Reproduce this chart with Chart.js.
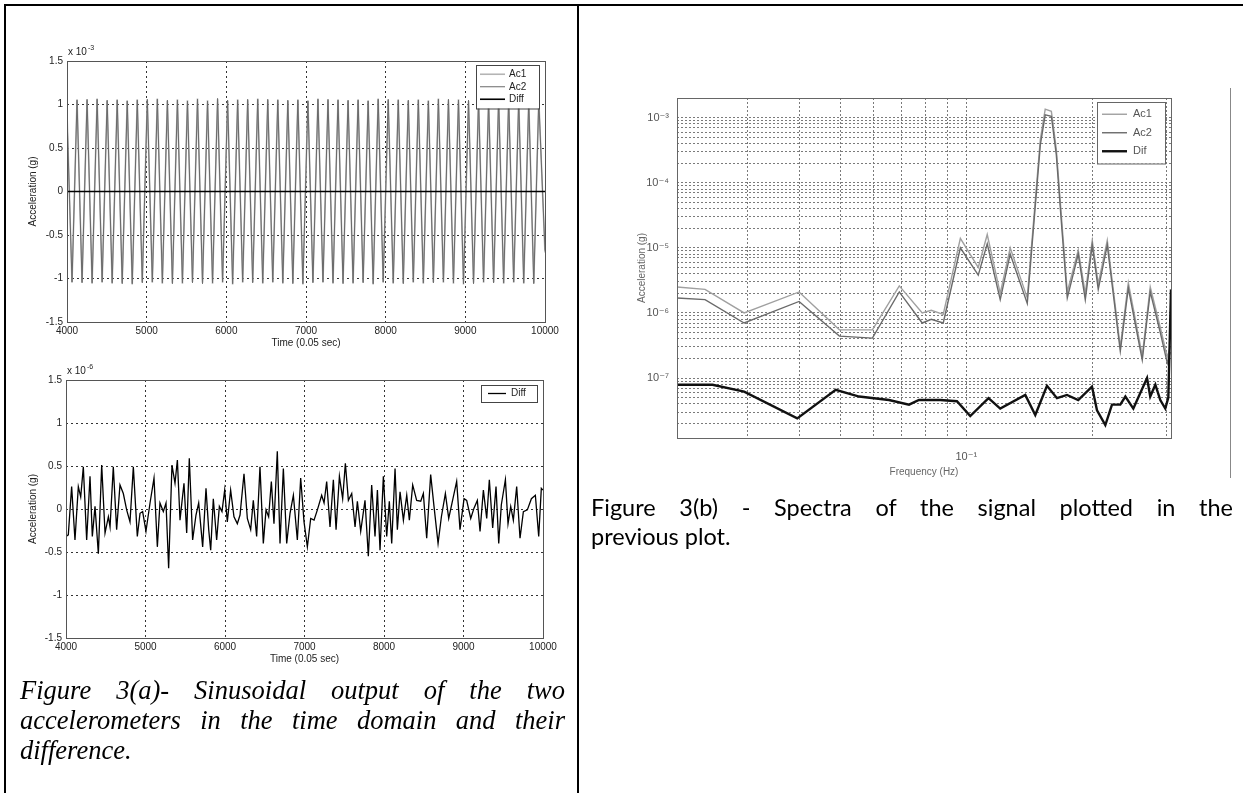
<!DOCTYPE html>
<html>
<head>
<meta charset="utf-8">
<script src="https://cdn.jsdelivr.net/npm/chart.js@4"></script>
<style>
  body { margin: 0; width: 1243px; height: 793px; overflow: hidden; background: #fff; position: relative; }
  .rule { position: absolute; background: #000; }
  canvas { position: absolute; }
  .cap { position: absolute; color: #000; }
  .cap .j { text-align: justify; text-align-last: justify; }
  #capA { left: 20px; top: 675px; width: 545px; font: italic 26.5px/30px "Liberation Serif", "DejaVu Serif", serif; }
  #capB { left: 591px; top: 493px; width: 642px; font: 23.5px/29px Lato, "Open Sans", sans-serif; }
  #specPlot { filter: blur(0.35px); }
</style>
</head>
<body>
<div class="rule" style="left:4px; top:4px; width:1239px; height:2px;"></div>
<div class="rule" style="left:4px; top:4px; width:2px; height:789px;"></div>
<div class="rule" style="left:577px; top:4px; width:2px; height:789px;"></div>
<div class="rule" style="left:1230px; top:88px; width:1px; height:390px; background:#888;"></div>

<canvas id="topPlot" width="560" height="330" style="left:10px; top:36px;"></canvas>
<canvas id="diffPlot" width="560" height="320" style="left:10px; top:355px;"></canvas>
<canvas id="specPlot" width="600" height="430" style="left:600px; top:70px;"></canvas>

<div class="cap" id="capA">
  <div class="j">Figure 3(a)- Sinusoidal output of the two</div>
  <div class="j">accelerometers in the time domain and their</div>
  <div>difference.</div>
</div>
<div class="cap" id="capB">
  <div class="j">Figure 3(b) - Spectra of the signal plotted in the</div>
  <div>previous plot.</div>
</div>

<script>
// top plot, acceleration in units of 1e-3 g
const topTime = [
    4000, 4063, 4126, 4189, 4252, 4315, 4378, 4441,
    4504, 4567, 4630, 4693, 4756, 4819, 4882, 4945,
    5008, 5071, 5134, 5197, 5260, 5323, 5386, 5449,
    5512, 5575, 5638, 5701, 5764, 5827, 5890, 5953,
    6016, 6079, 6142, 6205, 6268, 6331, 6394, 6457,
    6520, 6583, 6646, 6709, 6772, 6835, 6898, 6961,
    7024, 7087, 7150, 7213, 7276, 7339, 7402, 7465,
    7528, 7591, 7654, 7717, 7780, 7843, 7906, 7969,
    8032, 8095, 8158, 8221, 8284, 8347, 8410, 8473,
    8536, 8599, 8662, 8725, 8788, 8851, 8914, 8977,
    9040, 9103, 9166, 9229, 9292, 9355, 9418, 9481,
    9544, 9607, 9670, 9733, 9796, 9859, 9922, 10000
];
const ac1Top = [
    0.90, -1.05, 1.06, -1.04, 1.05, -1.06, 1.07, -1.05,
    1.04, -1.06, 1.06, -1.05, 1.05, -1.07, 1.06, -1.04,
    1.05, -1.05, 1.07, -1.06, 1.04, -1.05, 1.06, -1.06,
    1.05, -1.04, 1.07, -1.05, 1.05, -1.06, 1.06, -1.05,
    1.04, -1.07, 1.06, -1.05, 1.05, -1.04, 1.07, -1.06,
    1.05, -1.05, 1.06, -1.06, 1.04, -1.05, 1.06, -1.07,
    1.05, -1.04, 1.07, -1.05, 1.05, -1.06, 1.06, -1.05,
    1.04, -1.06, 1.06, -1.04, 1.05, -1.07, 1.07, -1.05,
    1.05, -1.06, 1.06, -1.05, 1.04, -1.05, 1.06, -1.06,
    1.05, -1.04, 1.07, -1.05, 1.05, -1.06, 1.06, -1.07,
    1.04, -1.05, 1.06, -1.05, 1.05, -1.04, 1.07, -1.06,
    1.05, -1.05, 1.06, -1.06, 1.04, -1.05, 1.06, -0.70
];
const ac2Top = [
    0.88, -1.04, 1.05, -1.05, 1.06, -1.05, 1.06, -1.04,
    1.05, -1.05, 1.05, -1.06, 1.04, -1.06, 1.05, -1.05,
    1.06, -1.04, 1.06, -1.05, 1.05, -1.06, 1.05, -1.05,
    1.04, -1.05, 1.06, -1.06, 1.04, -1.05, 1.07, -1.04,
    1.05, -1.06, 1.05, -1.04, 1.06, -1.05, 1.06, -1.05,
    1.06, -1.04, 1.05, -1.05, 1.05, -1.06, 1.05, -1.06,
    1.04, -1.05, 1.06, -1.04, 1.06, -1.05, 1.05, -1.06,
    1.05, -1.05, 1.05, -1.05, 1.04, -1.06, 1.06, -1.04,
    1.06, -1.05, 1.05, -1.06, 1.05, -1.04, 1.05, -1.05,
    1.04, -1.05, 1.06, -1.04, 1.06, -1.05, 1.05, -1.06,
    1.05, -1.06, 1.05, -1.04, 1.04, -1.05, 1.06, -1.05,
    1.06, -1.04, 1.05, -1.05, 1.05, -1.06, 1.05, -0.68
];

// bottom plot, difference in units of 1e-6 g
const diffTime = [
    4000, 4029, 4071, 4113, 4155, 4185, 4218, 4260, 4302, 4331,
    4365, 4407, 4449, 4491, 4533, 4554, 4595, 4637, 4679, 4721,
    4763, 4805, 4847, 4897, 4931, 4964, 5006, 5057, 5107, 5149,
    5182, 5224, 5258, 5291, 5333, 5371, 5401, 5434, 5484, 5518,
    5551, 5593, 5635, 5669, 5719, 5761, 5795, 5820, 5853, 5895,
    5929, 5962, 5996, 6029, 6071, 6113, 6155, 6189, 6239, 6281,
    6323, 6356, 6398, 6440, 6482, 6516, 6549, 6583, 6616, 6658,
    6692, 6734, 6776, 6818, 6860, 6910, 6952, 6994, 7036, 7078,
    7120, 7162, 7216, 7246, 7279, 7321, 7363, 7397, 7439, 7480,
    7514, 7552, 7594, 7636, 7665, 7707, 7761, 7803, 7845, 7887,
    7917, 7950, 7992, 8034, 8067, 8097, 8139, 8168, 8202, 8244,
    8286, 8319, 8361, 8411, 8462, 8495, 8537, 8587, 8629, 8680,
    8722, 8772, 8814, 8856, 8914, 8956, 9007, 9040, 9091, 9132,
    9174, 9208, 9250, 9292, 9325, 9367, 9409, 9443, 9476, 9527,
    9560, 9594, 9627, 9669, 9711, 9753, 9803, 9854, 9904, 9946,
    9979, 10000
];
const diffVals = [
    -0.32, -0.30, 0.26, -0.36, 0.26, 0.14, 0.49, -0.36, 0.38, -0.32,
    0.03, -0.52, 0.51, -0.28, -0.09, -0.21, 0.49, -0.24, 0.28, 0.18,
    -0.01, -0.15, 0.49, -0.32, -0.05, -0.03, -0.26, 0.07, 0.36, -0.44,
    0.07, -0.03, 0.07, -0.69, 0.51, 0.30, 0.57, -0.13, 0.30, -0.28,
    0.59, -0.36, -0.07, 0.07, -0.44, 0.24, -0.24, -0.48, 0.12, -0.36,
    0.03, -0.03, 0.22, -0.15, 0.22, -0.09, -0.17, -0.07, 0.41, -0.11,
    -0.24, 0.10, -0.32, 0.49, -0.40, -0.01, -0.09, 0.32, -0.17, 0.67,
    -0.40, 0.47, -0.40, -0.05, 0.16, -0.36, 0.36, -0.15, -0.44, -0.11,
    -0.13, -0.01, 0.16, 0.07, 0.32, -0.21, 0.34, -0.24, 0.38, 0.12,
    0.53, 0.10, 0.18, -0.21, 0.09, -0.26, 0.10, -0.55, 0.28, -0.32,
    0.22, -0.48, 0.38, -0.32, 0.09, -0.40, 0.47, -0.24, 0.20, -0.13,
    0.16, -0.13, 0.28, 0.10, 0.09, 0.18, -0.34, 0.40, 0.03, -0.40,
    -0.09, 0.18, -0.11, 0.07, 0.32, -0.24, 0.12, 0.10, -0.11, 0.01,
    0.10, -0.26, 0.22, -0.11, 0.34, -0.22, 0.26, -0.40, 0.05, 0.34,
    -0.17, 0.03, -0.13, 0.26, -0.34, -0.03, -0.01, 0.12, 0.16, -0.32,
    0.24, 0.22
];

// spectra (g), Ac1 and Ac2 share the frequency list
const specFreq = [0.0204, 0.0238, 0.0295, 0.0399, 0.0498, 0.0597, 0.0692, 0.0785, 0.0825, 0.0881,
    0.0968, 0.1068, 0.1122, 0.1205, 0.1273, 0.1398, 0.1502, 0.1543, 0.1596, 0.1640,
    0.1695, 0.1742, 0.1850, 0.1923, 0.1998, 0.2065, 0.2170, 0.2331, 0.2436, 0.2630,
    0.2748, 0.2904, 0.3018, 0.3068];
const ac1Spec = [2.5e-6, 2.3e-6, 1.0e-6, 2.1e-6, 5.5e-7, 5.5e-7, 2.6e-6, 1.0e-6, 1.1e-6, 9.5e-7,
    1.4e-5, 5.0e-6, 1.6e-5, 2.0e-6, 1.0e-5, 1.7e-6, 4.6e-4, 1.35e-3, 1.25e-3, 3.3e-4,
    2.0e-5, 2.1e-6, 9.2e-6, 2.0e-6, 1.3e-5, 2.8e-6, 1.3e-5, 3.0e-7, 2.9e-6, 2.2e-7,
    2.5e-6, 6.0e-7, 2.1e-7, 3.0e-7];
const ac2Spec = [1.7e-6, 1.6e-6, 7.0e-7, 1.5e-6, 4.4e-7, 4.1e-7, 2.1e-6, 7.0e-7, 8.0e-7, 7.0e-7,
    1.0e-5, 3.8e-6, 1.15e-5, 1.6e-6, 8.0e-6, 1.4e-6, 3.8e-4, 1.1e-3, 1.05e-3, 2.7e-4,
    1.6e-5, 1.7e-6, 8.0e-6, 1.6e-6, 1.1e-5, 2.3e-6, 1.1e-5, 2.6e-7, 2.4e-6, 1.9e-7,
    2.1e-6, 5.0e-7, 1.7e-7, 2.5e-7];
const difFreq = [0.0204, 0.0248, 0.0295, 0.0395, 0.0488, 0.0555, 0.0654, 0.0730, 0.0771, 0.0867,
    0.0950, 0.1022, 0.1130, 0.1205, 0.1383, 0.1461, 0.1558, 0.1646, 0.1739, 0.1850,
    0.1995, 0.2051, 0.2147, 0.2227, 0.2331, 0.2397, 0.2504, 0.2700, 0.2748, 0.2826,
    0.2904, 0.2985, 0.3035, 0.3080];
const difSpec = [7.9e-8, 7.9e-8, 6.2e-8, 2.4e-8, 6.6e-8, 5.2e-8, 4.6e-8, 3.9e-8, 4.6e-8, 4.6e-8,
    4.4e-8, 2.6e-8, 4.9e-8, 3.4e-8, 5.5e-8, 2.7e-8, 7.6e-8, 4.9e-8, 5.5e-8, 4.6e-8,
    7.4e-8, 3.2e-8, 1.9e-8, 3.9e-8, 3.9e-8, 5.2e-8, 3.4e-8, 1.0e-7, 5.2e-8, 7.9e-8,
    4.6e-8, 3.4e-8, 5.0e-8, 2.3e-6];

// axis ranges / ticks
const specDecades = [-8, -7, -6, -5, -4, -3];
const specMantissas = [1, 2, 3, 4, 5, 6, 7, 8, 9];
const specYMin = 1.2e-8, specYMax = 2e-3;
const specXTicks = [0.03, 0.04, 0.05, 0.06, 0.07, 0.08, 0.09, 0.1, 0.2, 0.3];
const specXMin = 0.0204, specXMax = 0.308;

Chart.defaults.font.family = '"Liberation Sans", Arial, "DejaVu Sans", sans-serif';
Chart.defaults.font.size = 10;
Chart.defaults.color = '#222';

const pts = (xs, ys) => xs.map((x, i) => ({x: x, y: ys[i]}));

// box around the axes plus the exponent note
const frame = {
    id: 'frame',
    afterDraw(chart, args, opts) {
        const {ctx, chartArea: a} = chart;
        ctx.save();
        ctx.strokeStyle = opts.color || '#555';
        ctx.lineWidth = 1;
        ctx.strokeRect(Math.round(a.left) + 0.5, Math.round(a.top) + 0.5,
            Math.round(a.right - a.left), Math.round(a.bottom - a.top));
        if (opts.exponent) {
            ctx.fillStyle = '#222';
            ctx.textBaseline = 'alphabetic';
            ctx.font = '10px "Liberation Sans", Arial, sans-serif';
            ctx.fillText('x 10', a.left + 1, a.top - 6);
            const w = ctx.measureText('x 10').width;
            ctx.font = '7px "Liberation Sans", Arial, sans-serif';
            ctx.fillText(opts.exponent, a.left + 2 + w, a.top - 11);
        }
        ctx.restore();
    }
};

// matlab style legend: white box in the top right corner of the axes
const boxLegend = {
    id: 'boxLegend',
    afterDraw(chart, args, o) {
        if (!o.show) return;
        const {ctx, chartArea: a} = chart;
        const sets = chart.data.datasets;
        const x = Math.round(a.right - o.right - o.width);
        const y = Math.round(a.top + o.top);
        const h = o.pad * 2 + sets.length * o.row;
        ctx.save();
        ctx.fillStyle = '#fff';
        ctx.fillRect(x, y, o.width, h);
        ctx.strokeStyle = o.edge;
        ctx.lineWidth = 1;
        ctx.strokeRect(x + 0.5, y + 0.5, o.width, h);
        ctx.font = o.font;
        ctx.textBaseline = 'middle';
        sets.forEach((d, i) => {
            const cy = y + o.pad + o.row * (i + 0.5);
            ctx.strokeStyle = d.borderColor;
            ctx.lineWidth = d.borderWidth;
            ctx.beginPath();
            ctx.moveTo(x + o.lineFrom, cy);
            ctx.lineTo(x + o.lineTo, cy);
            ctx.stroke();
            ctx.fillStyle = o.color;
            ctx.fillText(d.label, x + o.textAt, cy);
        });
        ctx.restore();
    }
};

const leftGrid = { color: '#333', lineWidth: 1, drawTicks: false };
const leftBorder = { display: false, dash: [2, 3] };

new Chart(document.getElementById('topPlot'), {
    type: 'line',
    data: {
        datasets: [{
            label: 'Ac1',
            data: pts(topTime, ac1Top),
            borderColor: '#b4b4b4',
            borderWidth: 1.6,
            order: 3
        },
        {
            label: 'Ac2',
            data: pts(topTime, ac2Top),
            borderColor: '#6a6a6a',
            borderWidth: 1,
            order: 2
        },
        {
            label: 'Diff',
            // same difference signal, converted from 1e-6 to 1e-3 units
            data: pts(diffTime, diffVals.map(v => v / 1000)),
            borderColor: '#000',
            borderWidth: 1.6,
            order: 1
        }]
    },
    options: {
        responsive: false,
        animation: false,
        devicePixelRatio: 1,
        layout: { padding: { left: 0, top: 25, right: 25, bottom: 0 } },
        elements: { point: { radius: 0 }, line: { tension: 0 } },
        plugins: {
            legend: { display: false },
            tooltip: { enabled: false },
            frame: { exponent: '-3' },
            boxLegend: { show: true, right: 6, top: 4, width: 63, pad: 3, row: 12.5,
                lineFrom: 4, lineTo: 29, textAt: 33, font: '10px "Liberation Sans", Arial, sans-serif',
                color: '#222', edge: '#444' }
        },
        scales: {
            x: {
                type: 'linear', min: 4000, max: 10000,
                ticks: { stepSize: 1000, padding: 3, maxRotation: 0, callback: v => String(v) },
                grid: leftGrid, border: leftBorder,
                title: { display: true, text: 'Time (0.05 sec)', padding: { top: 0, bottom: 17 } },
                afterFit: s => { s.height = 44; }
            },
            y: {
                min: -1.5, max: 1.5,
                ticks: { stepSize: 0.5, padding: 4, callback: v => String(v) },
                grid: leftGrid, border: leftBorder,
                title: { display: true, text: 'Acceleration (g)', padding: { top: 17, bottom: 0 } },
                afterFit: s => { s.width = 57; }
            }
        }
    },
    plugins: [frame, boxLegend]
});

new Chart(document.getElementById('diffPlot'), {
    type: 'line',
    data: {
        datasets: [{
            label: 'Diff',
            data: pts(diffTime, diffVals),
            borderColor: '#000',
            borderWidth: 1.3
        }]
    },
    options: {
        responsive: false,
        animation: false,
        devicePixelRatio: 1,
        layout: { padding: { left: 0, top: 25, right: 27, bottom: 0 } },
        elements: { point: { radius: 0 }, line: { tension: 0 } },
        plugins: {
            legend: { display: false },
            tooltip: { enabled: false },
            frame: { exponent: '-6' },
            boxLegend: { show: true, right: 6, top: 5, width: 56, pad: 1, row: 15,
                lineFrom: 7, lineTo: 25, textAt: 30, font: '10px "Liberation Sans", Arial, sans-serif',
                color: '#222', edge: '#444' }
        },
        scales: {
            x: {
                type: 'linear', min: 4000, max: 10000,
                ticks: { stepSize: 1000, padding: 3, maxRotation: 0, callback: v => String(v) },
                grid: leftGrid, border: leftBorder,
                title: { display: true, text: 'Time (0.05 sec)', padding: { top: 0, bottom: 10 } },
                afterFit: s => { s.height = 37; }
            },
            y: {
                min: -1.5, max: 1.5,
                ticks: { stepSize: 0.5, padding: 4, callback: v => String(v) },
                grid: leftGrid, border: leftBorder,
                title: { display: true, text: 'Acceleration (g)', padding: { top: 17, bottom: 0 } },
                afterFit: s => { s.width = 56; }
            }
        }
    },
    plugins: [frame, boxLegend]
});

// log-log spectrum
const sup = { '-': '\u207b', '0': '\u2070', '1': '\u00b9', '2': '\u00b2', '3': '\u00b3', '4': '\u2074',
    '5': '\u2075', '6': '\u2076', '7': '\u2077', '8': '\u2078', '9': '\u2079' };
function decadeLabel(v) {
    const e = Math.log10(v);
    if (Math.abs(e - Math.round(e)) > 1e-6) return '';
    return '10' + String(Math.round(e)).split('').map(c => sup[c]).join('');
}
const specYTicks = [];
specDecades.forEach(e => specMantissas.forEach(m => {
    const v = m * Math.pow(10, e);
    if (v > specYMin && v < specYMax) specYTicks.push(v);
}));

const specGrid = { color: '#7a7a7a', lineWidth: 1, drawTicks: false };
const specBorder = { display: false, dash: [2, 2] };

new Chart(document.getElementById('specPlot'), {
    type: 'line',
    data: {
        datasets: [{
            label: 'Ac1',
            data: pts(specFreq, ac1Spec),
            borderColor: '#a0a0a0',
            borderWidth: 1.4,
            order: 3
        },
        {
            label: 'Ac2',
            data: pts(specFreq, ac2Spec),
            borderColor: '#6a6a6a',
            borderWidth: 1.4,
            order: 2
        },
        {
            label: 'Dif',
            data: pts(difFreq, difSpec),
            borderColor: '#111',
            borderWidth: 2.4,
            order: 1
        }]
    },
    options: {
        responsive: false,
        animation: false,
        devicePixelRatio: 1,
        layout: { padding: { left: 0, top: 28, right: 29, bottom: 0 } },
        elements: { point: { radius: 0 }, line: { tension: 0 } },
        plugins: {
            legend: { display: false },
            tooltip: { enabled: false },
            frame: { color: '#666' },
            boxLegend: { show: true, right: 6, top: 4, width: 68, pad: 3, row: 18.5,
                lineFrom: 5, lineTo: 30, textAt: 36, font: '11px "Liberation Sans", Arial, sans-serif',
                color: '#555', edge: '#666' }
        },
        scales: {
            x: {
                type: 'logarithmic', min: specXMin, max: specXMax,
                afterBuildTicks: s => { s.ticks = specXTicks.map(v => ({ value: v })); },
                ticks: { autoSkip: false, maxRotation: 0, padding: 12, color: '#555',
                    font: { size: 11 }, callback: v => decadeLabel(v) },
                grid: specGrid, border: specBorder,
                title: { display: true, text: 'Frequency (Hz)', color: '#666', padding: { top: 0, bottom: 22 } },
                afterFit: s => { s.height = 62; }
            },
            y: {
                type: 'logarithmic', min: specYMin, max: specYMax,
                afterBuildTicks: s => { s.ticks = specYTicks.map(v => ({ value: v })); },
                ticks: { autoSkip: false, padding: 8, color: '#555',
                    font: { size: 11 }, callback: v => decadeLabel(v) },
                grid: specGrid, border: specBorder,
                title: { display: true, text: 'Acceleration (g)', color: '#666', padding: { top: 36, bottom: 0 } },
                afterFit: s => { s.width = 77; }
            }
        }
    },
    plugins: [frame, boxLegend]
});
</script>
</body>
</html>
